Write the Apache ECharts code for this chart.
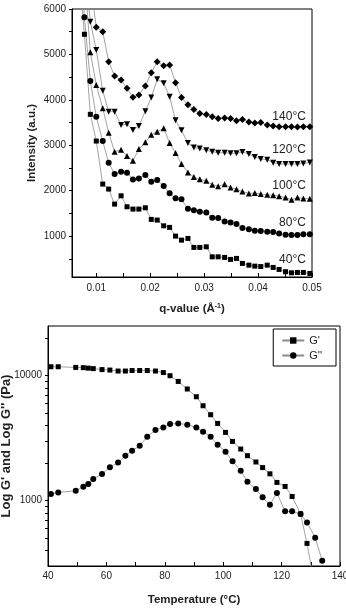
<!DOCTYPE html>
<html>
<head>
<meta charset="utf-8">
<script src="https://cdn.jsdelivr.net/npm/echarts@6.0.0/dist/echarts.min.js"></script>
<style>
  html, body { margin: 0; padding: 0; background: #fff; }
  #chart { width: 346px; height: 610px; }
</style>
</head>
<body>
<div id="chart"></div>
<script>
// SAXS curves (top)
var qValues = [0.0067, 0.0078, 0.0089, 0.0100, 0.0112, 0.0123, 0.0134, 0.0146, 0.0157, 0.0168,
  0.0179, 0.0191, 0.0202, 0.0213, 0.0225, 0.0236, 0.0247, 0.0258, 0.0270, 0.0281,
  0.0292, 0.0304, 0.0315, 0.0326, 0.0338, 0.0349, 0.0360, 0.0371, 0.0383, 0.0394,
  0.0405, 0.0417, 0.0428, 0.0439, 0.0451, 0.0462, 0.0473, 0.0484, 0.0496];
var i140 = [9000, 8000, 6600, 5598, 5501, 4840, 4525, 4437, 4254, 4056,
  4106, 4305, 4598, 4840, 4752, 4767, 4377, 4050, 3890, 3790,
  3700, 3680, 3630, 3590, 3600, 3590, 3540, 3570, 3510, 3490,
  3500, 3445, 3425, 3410, 3408, 3408, 3400, 3408, 3408];
var i120 = [9500, 7000, 5721, 5098, 4202, 3739, 3739, 3446, 3465, 3335,
  3423, 3750, 4050, 4452, 4364, 4069, 3550, 3330, 3050, 2950,
  2930, 2890, 2860, 2835, 2835, 2822, 2822, 2850, 2810, 2740,
  2700, 2680, 2615, 2590, 2586, 2586, 2586, 2600, 2620];
var i100 = [9000, 6800, 5047, 4327, 3813, 3276, 2857, 2900, 2762, 2659,
  2917, 3064, 3230, 3300, 3373, 3050, 2830, 2590, 2400, 2300,
  2250, 2220, 2130, 2100, 2140, 2070, 2030, 1980, 1940, 1950,
  1925, 1910, 1900, 1880, 1850, 1800, 1850, 1830, 1820];
var i80 = [8000, 5818, 4415, 3628, 3093, 2615, 2366, 2417, 2395, 2249,
  2271, 2344, 2196, 2234, 2102, 1941, 1831, 1809, 1600, 1570,
  1535, 1520, 1403, 1400, 1320, 1300, 1265, 1180, 1150, 1117,
  1110, 1095, 1090, 1055, 1030, 1022, 1022, 1040, 1040];
var i40 = [7000, 5443, 3681, 3093, 2146, 2036, 1705, 1888, 1646, 1595,
  1595, 1624, 1368, 1353, 1227, 1192, 1000, 912, 949, 751,
  751, 765, 544, 544, 531, 487, 509, 399, 361, 339,
  330, 361, 311, 267, 216, 192, 200, 200, 178];
var qTicks = [0.01, 0.015, 0.02, 0.025, 0.03, 0.035, 0.04, 0.045, 0.05];
var qLabels = [0.01, 0.02, 0.03, 0.04, 0.05];
var intTicks = [500, 1000, 1500, 2000, 2500, 3000, 3500, 4000, 4500, 5000, 5500, 6000];
var intLabels = [1000, 2000, 3000, 4000, 5000, 6000];

// rheology (bottom)
var temps = [41, 43.5, 49.5, 52.1, 53.8, 55.5, 58.5, 61.2, 64, 66.5,
  68.8, 71.4, 74, 76.8, 79.5, 81.8, 84.6, 87.7, 90.8, 93.1,
  95.7, 98.1, 100.8, 103.2, 106, 108.3, 111.2, 113.5, 116, 118.4,
  121.2, 123.6, 126.5, 128.7, 131.5, 133.9];
var gPrime = [11800, 11800, 11650, 11600, 11500, 11400, 11200, 11100, 10900, 10900,
  11000, 11000, 11000, 10900, 10600, 10000, 9000, 7830, 6790, 5750,
  4875, 4150, 3520, 2980, 2590, 2290, 2040, 1840, 1640, 1400,
  1300, 1080, 783, 455, 200];
var gDouble = [1130, 1165, 1200, 1295, 1360, 1490, 1635, 1850, 2025, 2290,
  2510, 2750, 3250, 3680, 3860, 4100, 4150, 4060, 3860, 3565,
  3250, 2805, 2465, 2063, 1738, 1419, 1241, 1063, 929, 1153,
  821, 821, 783, 670, 506, 331];
var tempTicks = [40, 50, 60, 70, 80, 90, 100, 110, 120, 130, 140];
var tempLabels = [40, 60, 80, 100, 120, 140];
var gTicks = [400, 500, 600, 700, 800, 900, 1000, 2000, 3000, 4000, 5000, 6000, 7000, 8000, 9000, 10000, 20000];
var gLabels = [1000, 10000];

var textColor = "#222";
var lineGray = "#8c8c8c";

function pairs(xs, ys) {
  return ys.map(function (v, i) { return [xs[i], v]; });
}

// plain numbers, no thousands separator
function plain(v) {
  return String(Math.round(v));
}

function topSeries(name, vals, symbol, size, labelDy) {
  var data = pairs(qValues, vals);
  var last = data.length - 1;
  // temperature tag sits above the last point
  data[last] = {
    value: data[last],
    label: {
      show: true,
      formatter: name,
      position: "top",
      align: "right",
      distance: 0,
      offset: [-4, labelDy],
      fontSize: 12,
      color: textColor,
    },
  };
  return {
    name: name,
    type: "line",
    xAxisIndex: 0,
    yAxisIndex: 0,
    data: data,
    symbol: symbol,
    symbolSize: size,
    itemStyle: { color: "#000" },
    lineStyle: { color: lineGray, width: 0.8 },
    emphasis: { disabled: true },
  };
}

function bottomSeries(name, vals, symbol, size) {
  return {
    name: name,
    type: "line",
    xAxisIndex: 1,
    yAxisIndex: 1,
    data: pairs(temps, vals),
    symbol: symbol,
    symbolSize: size,
    itemStyle: { color: "#000" },
    lineStyle: { color: lineGray, width: 0.8 },
    emphasis: { disabled: true },
  };
}

var axisLine = { show: true, onZero: false, lineStyle: { color: "#000", width: 1 } };
var tickLabel = { color: textColor, fontSize: 10 };
var nameStyle = { color: textColor, fontSize: 11.5, fontWeight: "bold" };

var option = {
  animation: false,
  textStyle: { fontFamily: "'Liberation Sans', Arial, sans-serif" },
  legend: {
    data: ["G'", "G''"],
    orient: "vertical",
    right: 10,
    top: 329,
    padding: [6, 14, 5, 8],
    itemGap: 4,
    itemWidth: 22,
    itemHeight: 8,
    borderColor: "#000",
    borderWidth: 1,
    textStyle: { color: textColor, fontSize: 11 },
  },
  grid: [
    { left: 72, right: 34, top: 9, bottom: 333, outerBoundsMode: "none", show: true, borderColor: "#000", borderWidth: 1 },
    { left: 48, right: 6, top: 326, bottom: 44, outerBoundsMode: "none", show: true, borderColor: "#000", borderWidth: 1 },
  ],
  xAxis: [
    {
      type: "value",
      gridIndex: 0,
      min: 0.0055,
      max: 0.05,
      axisLine: axisLine,
      axisTick: { inside: true, length: 4, customValues: qTicks, lineStyle: { color: "#000" } },
      axisLabel: Object.assign({ margin: 6, customValues: qLabels, formatter: function (v) { return v.toFixed(2); } }, tickLabel),
      splitLine: { show: false },
      name: "q-value (Å{sup|-1})",
      nameLocation: "middle",
      nameGap: 26,
      nameMoveOverlap: false,
      nameTextStyle: Object.assign({ rich: { sup: { fontSize: 7, fontWeight: "bold", verticalAlign: "top", color: textColor } } }, nameStyle),
    },
    {
      type: "value",
      gridIndex: 1,
      min: 40,
      max: 140,
      axisLine: axisLine,
      axisTick: { inside: true, length: 4, customValues: tempTicks, lineStyle: { color: "#000" } },
      axisLabel: Object.assign({ margin: 5, customValues: tempLabels, formatter: plain }, tickLabel),
      splitLine: { show: false },
      name: "Temperature (°C)",
      nameLocation: "middle",
      nameGap: 28,
      nameMoveOverlap: false,
      nameTextStyle: nameStyle,
    },
  ],
  yAxis: [
    {
      type: "value",
      gridIndex: 0,
      min: 100,
      max: 6000,
      axisLine: axisLine,
      axisTick: { length: 3, customValues: intTicks, lineStyle: { color: "#000" } },
      axisLabel: Object.assign({ margin: 6, customValues: intLabels, formatter: plain }, tickLabel),
      splitLine: { show: false },
      name: "Intensity (a.u.)",
      nameLocation: "middle",
      nameGap: 34,
      nameMoveOverlap: false,
      nameTextStyle: nameStyle,
    },
    {
      type: "log",
      logBase: 10,
      gridIndex: 1,
      min: 300,
      max: 25000,
      axisLine: axisLine,
      axisTick: { length: 3, customValues: gTicks, lineStyle: { color: "#000" } },
      axisLabel: Object.assign({ margin: 6, customValues: gLabels, formatter: plain }, tickLabel),
      splitLine: { show: false },
      name: "Log G' and Log G'' (Pa)",
      nameLocation: "middle",
      nameGap: 35,
      nameMoveOverlap: false,
      nameTextStyle: { color: textColor, fontSize: 13, fontWeight: "bold" },
    },
  ],
  series: [
    topSeries("140°C", i140, "diamond", 7, -1),
    topSeries("120°C", i120, "path://M0,0L10,0L5,9Z", 6, -3.5),
    topSeries("100°C", i100, "triangle", 6, -4.5),
    topSeries("80°C", i80, "circle", 6, -3),
    topSeries("40°C", i40, "rect", 5, -5.5),
    bottomSeries("G'", gPrime, "rect", 5),
    bottomSeries("G''", gDouble, "circle", 6),
  ],
};

var myChart = echarts.init(document.getElementById("chart"));
myChart.setOption(option);
</script>
</body>
</html>
